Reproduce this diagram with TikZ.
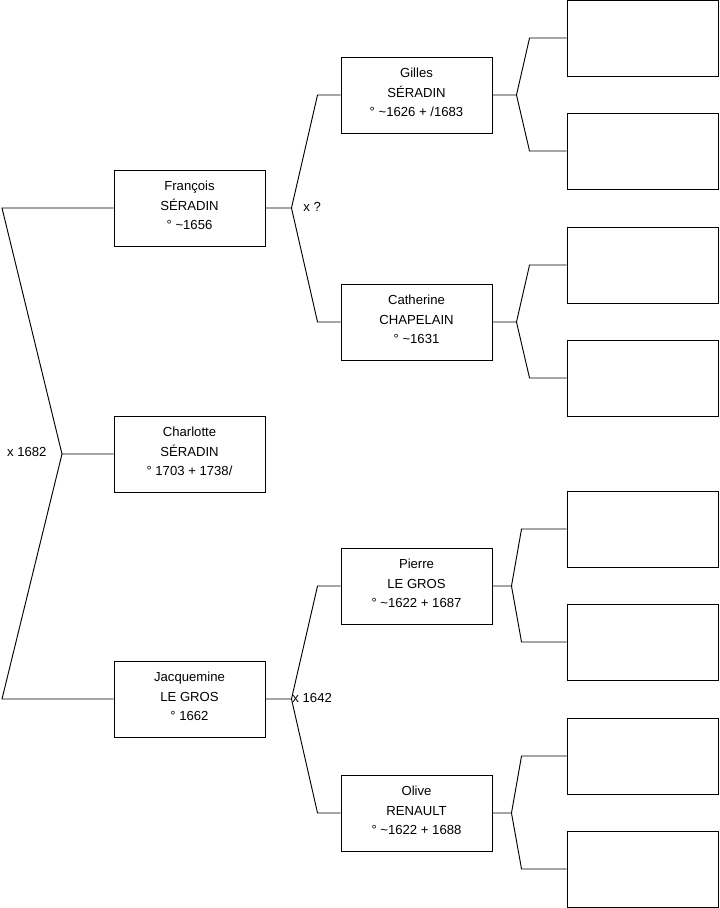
\documentclass[tikz,border=0pt]{standalone}
\usepackage{fontspec}
\setmainfont{Liberation Sans}
\begin{document}
\begin{tikzpicture}[x=0.03cm, y=-0.03cm, line width=0.8pt,
    person/.style={draw, minimum width=4.53cm, minimum height=2.28cm, align=center,
      inner sep=0pt, font=\fontsize{11.2}{16.6}\selectfont},
    union/.style={inner sep=0pt, font=\fontsize{11.2}{12}\selectfont}]
  \useasboundingbox (0,0) rectangle (719,908);
  \def\xa{189.5}
  \def\xb{416.5}
  \def\xc{642.5}
  % generation 1
  \node[person] (charlotte) at (\xa,454) {Charlotte\\SÉRADIN\\° 1703 + 1738/\\[-12pt]};
  % generation 2
  \node[person] (francois) at (\xa,208) {François\\SÉRADIN\\° \textasciitilde1656\\[-12pt]};
  \node[person] (jacquemine) at (\xa,699) {Jacquemine\\LE GROS\\° 1662\\[-12pt]};
  % generation 3
  \node[person] (gilles) at (\xb,95) {Gilles\\SÉRADIN\\° \textasciitilde1626 + /1683\\[-12pt]};
  \node[person] (catherine) at (\xb,322) {Catherine\\CHAPELAIN\\° \textasciitilde1631\\[-12pt]};
  \node[person] (pierre) at (\xb,586) {Pierre\\LE GROS\\° \textasciitilde1622 + 1687\\[-12pt]};
  \node[person] (olive) at (\xb,813) {Olive\\RENAULT\\° \textasciitilde1622 + 1688\\[-12pt]};
  % generation 4, empty
  \foreach \i/\y in {1/38,2/151,3/265,4/378,5/529,6/642,7/756,8/869}
    \node[person] (u\i) at (\xc,\y) {};

  % forks
  \coordinate (v0) at (62,454);
  \coordinate (e0a) at (2,208);
  \coordinate (e0b) at (2,699);
  \draw (charlotte.west) -- (v0) -- (e0a) -- (francois.west)
        (v0) -- (e0b) -- (jacquemine.west);
  \node[union, anchor=east] (m0) at (47,452) {x 1682};

  \foreach \p/\a/\b/\k in {francois/gilles/catherine/1, jacquemine/pierre/olive/2} {
    \path (\p.east) ++(26,0) coordinate (w\k)
          (\a.west) ++(-23,0) coordinate (ea\k)
          (\b.west) ++(-23,0) coordinate (eb\k);
    \draw (\p.east) -- (w\k) -- (ea\k) -- (\a.west)
          (w\k) -- (eb\k) -- (\b.west);
  }
  \node[union, anchor=west] (m1) at (303,207) {x ?};
  \node[union, anchor=west] (m2) at (292,698) {x 1642};

  \foreach \p/\dv/\de/\i/\j in {gilles/24/37/1/2, catherine/24/37/3/4,
                                 pierre/19/45/5/6, olive/19/45/7/8} {
    \path (\p.east) ++(\dv,0) coordinate (v\i)
          (u\i.west) ++(-\de,0) coordinate (e\i)
          (u\j.west) ++(-\de,0) coordinate (e\j);
    \draw (\p.east) -- (v\i) -- (e\i) -- (u\i.west)
          (v\i) -- (e\j) -- (u\j.west);
  }
\end{tikzpicture}
\end{document}
